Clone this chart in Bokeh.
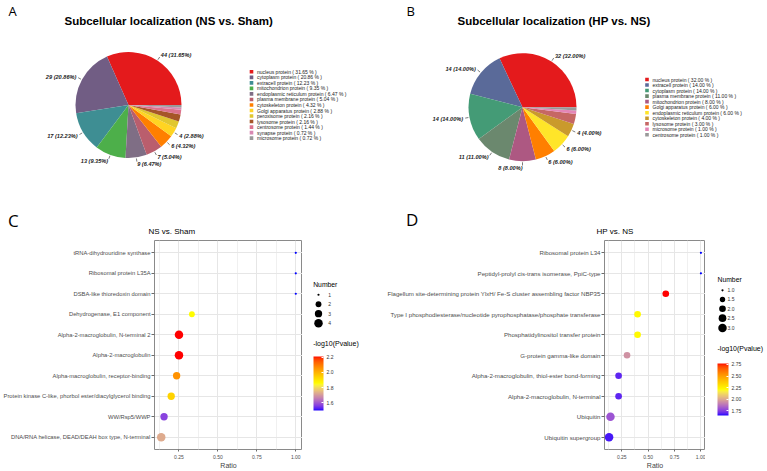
import numpy as np
from bokeh.plotting import figure
from bokeh.layouts import row, column
from bokeh.models import (Range1d, FactorRange, FixedTicker, PrintfTickFormatter,
                          LinearColorMapper, ColorBar, ColumnDataSource)
from bokeh.core.properties import value
from bokeh.embed import file_html
from bokeh.resources import INLINE

# ---------------- data ----------------
# A: subcellular localization, NS vs. Sham
loc_a_names = ["nucleus protein", "cytoplasm protein", "extracell protein", "mitochondrion protein",
               "endoplasmic reticulum protein", "plasma membrane protein", "cytoskeleton protein",
               "Golgi apparatus protein", "peroxisome protein", "lysosome protein",
               "centrosome protein", "synapse protein", "microsome protein"]
loc_a_counts = [44, 29, 17, 13, 9, 7, 6, 4, 3, 3, 2, 1, 1]

# B: subcellular localization, HP vs. NS
loc_b_names = ["nucleus protein", "extracell protein", "cytoplasm protein", "plasma membrane protein",
               "mitochondrion protein", "Golgi apparatus protein", "endoplasmic reticulum protein",
               "cytoskeleton protein", "lysosome protein", "microsome protein", "centrosome protein"]
loc_b_counts = [32, 14, 14, 11, 8, 6, 6, 4, 3, 1, 1]

# C: domain enrichment, NS vs. Sham (listed top to bottom)
dom_c_terms = ["tRNA-dihydrouridine synthase", "Ribosomal protein L35A", "DSBA-like thioredoxin domain",
               "Dehydrogenase, E1 component", "Alpha-2-macroglobulin, N-terminal 2", "Alpha-2-macroglobulin",
               "Alpha-macroglobulin, receptor-binding",
               "Protein kinase C-like, phorbol ester/diacylglycerol binding", "WW/Rsp5/WWP",
               "DNA/RNA helicase, DEAD/DEAH box type, N-terminal"]
dom_c_ratio = [1.0, 1.0, 1.0, 0.333, 0.25, 0.25, 0.235, 0.2, 0.154, 0.136]
dom_c_number = [1, 1, 1, 2, 4, 4, 3, 3, 3, 4]
dom_c_logp = [1.50, 1.50, 1.50, 1.86, 2.21, 2.21, 2.06, 1.94, 1.57, 1.73]
size_c_breaks = [1, 2, 3, 4]
color_c_breaks = [1.6, 1.8, 2.0, 2.2]

# D: domain enrichment, HP vs. NS (listed top to bottom)
dom_d_terms = ["Ribosomal protein L34", "Peptidyl-prolyl cis-trans isomerase, PpiC-type",
               "Flagellum site-determining protein YlxH/ Fe-S cluster assembling factor NBP35",
               "Type I phosphodiesterase/nucleotide pyrophosphatase/phosphate transferase",
               "Phosphatidylinositol transfer protein", "G-protein gamma-like domain",
               "Alpha-2-macroglobulin, thiol-ester bond-forming", "Alpha-2-macroglobulin, N-terminal",
               "Ubiquitin", "Ubiquitin supergroup"]
dom_d_ratio = [1.0, 1.0, 0.667, 0.4, 0.4, 0.3, 0.22, 0.22, 0.143, 0.13]
dom_d_number = [1, 1, 2, 2, 2, 2, 2, 2, 3, 3]
dom_d_logp = [1.65, 1.65, 2.77, 2.23, 2.23, 1.95, 1.70, 1.70, 1.80, 1.68]
size_d_breaks = [1.0, 1.5, 2.0, 2.5, 3.0]
color_d_breaks = [1.75, 2.00, 2.25, 2.50, 2.75]

# ---------------- styling helpers ----------------
FONT = "Liberation Sans"
LETTER_FONT = "Open Sans"
H_TOP, H_BOT = 236, 235
MIN_LABELLED = 4  # slices with fewer proteins get no outside label

SET1 = ["#E41A1C", "#377EB8", "#4DAF4A", "#984EA3", "#FF7F00",
        "#FFFF33", "#A65628", "#F781BF", "#999999"]


def hex_rgb(h):
    return np.array([int(h[i:i + 2], 16) for i in (1, 3, 5)], dtype=float)


def set1_ramp(n):
    base = np.array([hex_rgb(c) for c in SET1])
    out = []
    for v in np.linspace(0, len(SET1) - 1, n):
        i = min(int(np.floor(v)), len(SET1) - 2)
        f = v - i
        c = base[i] * (1 - f) + base[i + 1] * f
        out.append("#%02x%02x%02x" % tuple(int(round(x)) for x in c))
    return out


_M = np.array([[0.4124, 0.3576, 0.1805], [0.2126, 0.7152, 0.0722], [0.0193, 0.1192, 0.9505]])
_WHITE = np.array([0.95047, 1.0, 1.08883])


def to_lab(h):
    rgb = hex_rgb(h) / 255.0
    c = np.where(rgb > 0.04045, ((rgb + 0.055) / 1.055) ** 2.4, rgb / 12.92)
    xyz = _M @ c / _WHITE
    f = np.where(xyz > 216 / 24389, np.cbrt(xyz), (24389 / 27 * xyz + 16) / 116)
    return np.array([116 * f[1] - 16, 500 * (f[0] - f[1]), 200 * (f[1] - f[2])])


def from_lab(lab):
    L, a, b = lab
    fy = (L + 16) / 116
    f = np.array([fy + a / 500, fy, fy - b / 200])
    xyz = np.where(f ** 3 > 216 / 24389, f ** 3, (116 * f - 16) / (24389 / 27)) * _WHITE
    c = np.clip(np.linalg.inv(_M) @ xyz, 0, 1)
    rgb = np.where(c > 0.0031308, 1.055 * c ** (1 / 2.4) - 0.055, 12.92 * c)
    return "#%02x%02x%02x" % tuple(int(round(v * 255)) for v in np.clip(rgb, 0, 1))


def lab_gradient(stops, n=256):
    labs = [to_lab(s) for s in stops]
    pos = np.linspace(0, 1, len(stops))
    out = []
    for t in np.linspace(0, 1, n):
        k = min(np.searchsorted(pos, t, side="right") - 1, len(stops) - 2)
        f = (t - pos[k]) / (pos[k + 1] - pos[k])
        out.append(from_lab(labs[k] * (1 - f) + labs[k + 1] * f))
    return out


PVAL_PALETTE = lab_gradient(["#0000FF", "#FFFF00", "#FF0000"])


def blank(w, h, xr, yr):
    p = figure(width=w, height=h, x_range=Range1d(*xr), y_range=Range1d(*yr),
               x_axis_type=None, y_axis_type=None, output_backend="svg",
               toolbar_location=None, min_border=0)
    p.outline_line_color = None
    p.background_fill_color = "white"
    return p


def txt(p, x, y, s, size, align="left", style="normal", color="#000000", font=FONT):
    p.text(x=[x], y=[y], text=[s], text_font=value(font), text_font_size=size,
           text_font_style=style, text_align=align, text_baseline="middle", text_color=color)


# ---------------- pie panels ----------------
def pie_panel(p, names, counts, cx, cy_px, r, leg_x, leg_y0, leg_dy):
    counts = np.asarray(counts, dtype=float)
    frac = counts / counts.sum()
    pct = frac * 100
    end = 2 * np.pi * np.cumsum(frac)
    start = end - 2 * np.pi * frac
    cy = H_TOP - cy_px
    colors = set1_ramp(len(counts))
    p.wedge(x=cx, y=cy, radius=r, start_angle=start, end_angle=end,
            direction="anticlock", fill_color=colors, line_color=None)

    mid = (start + end) / 2
    show = counts >= MIN_LABELLED
    cs, sn = np.cos(mid[show]), np.sin(mid[show])
    p.segment(x0=cx + 1.02 * r * cs, y0=cy + 1.02 * r * sn,
              x1=cx + 1.08 * r * cs, y1=cy + 1.08 * r * sn,
              line_color="#444444", line_width=0.7)
    labels = np.array(["%d (%.2f%%)" % (c, q) for c, q in zip(counts[show], pct[show])])
    lx, ly = cx + 1.12 * r * cs, cy + 1.12 * r * sn
    for side, m in (("left", cs > 0), ("right", cs <= 0)):
        p.text(x=lx[m], y=ly[m], text=labels[m], text_font=value(FONT), text_font_size="5.6px",
               text_font_style="bold italic", text_align=side, text_baseline="middle",
               text_color="#222222")

    ys = H_TOP - (leg_y0 + leg_dy * np.arange(len(counts)))
    p.scatter(x=leg_x, y=ys, marker="square", size=3.6, fill_color=colors, line_color=None)
    leg_text = ["%s ( %.2f %% )" % (n, q) for n, q in zip(names, pct)]
    p.text(x=leg_x + 5.5, y=ys, text=leg_text, text_font=value(FONT), text_font_size="5px",
           text_align="left", text_baseline="middle", text_color="#222222")


pA = blank(384, H_TOP, (0, 384), (0, H_TOP))
pie_panel(pA, loc_a_names, loc_a_counts, 128, 104.5, 53, 251, 71.3, 5.53)
txt(pA, 64, H_TOP - 20, "Subcellular localization (NS vs. Sham)", "11.5px", style="bold")
txt(pA, 8, H_TOP - 10.3, "A", "13px", font=LETTER_FONT)
txt(pA, 7.5, H_TOP - 220, "C", "17px", font=LETTER_FONT)
txt(pA, 148, H_TOP - 231, "NS vs. Sham", "8px")

pB = blank(383, H_TOP, (384, 767), (0, H_TOP))
pie_panel(pB, loc_b_names, loc_b_counts, 522, 106.7, 54, 646.5, 79, 5.53)
txt(pB, 457, H_TOP - 20, "Subcellular localization (HP vs. NS)", "11.5px", style="bold")
txt(pB, 406, H_TOP - 10.3, "B", "13px", font=LETTER_FONT)
txt(pB, 405.5, H_TOP - 219, "D", "17px", font=LETTER_FONT)
txt(pB, 596, H_TOP - 231, "HP vs. NS", "8px")


# ---------------- bubble panels ----------------
def diam(n, nmin, nmax):
    return 2.2 + np.sqrt((np.asarray(n, dtype=float) - nmin) / (nmax - nmin)) * (8.5 - 2.2)


def bubble_panel(terms, ratio, number, logp, width, left, mapper, label_size):
    lo, hi = min(ratio), max(ratio)
    pad = 0.05 * (hi - lo)
    p = figure(width=width, height=H_BOT, x_range=Range1d(lo - pad, hi + pad),
               y_range=FactorRange(factors=terms[::-1], range_padding=0.1,
                                   range_padding_units="absolute"),
               output_backend="svg", toolbar_location=None,
               min_border_left=left, min_border_right=0, min_border_top=4, min_border_bottom=18)
    src = ColumnDataSource(dict(term=terms, ratio=ratio, logp=logp,
                                d=diam(number, min(number), max(number))))
    p.scatter(x="ratio", y="term", size="d", source=src, line_color=None,
              fill_color={"field": "logp", "transform": mapper})
    p.outline_line_color = "#8a8a8a"
    p.outline_line_width = 1
    p.xaxis.ticker = FixedTicker(ticks=[0.25, 0.5, 0.75, 1.0],
                                 minor_ticks=[0.125, 0.375, 0.625, 0.875])
    p.xaxis.formatter = PrintfTickFormatter(format="%.2f")
    p.xaxis.axis_label = "Ratio"
    p.xaxis.axis_label_text_font = FONT
    p.xaxis.axis_label_text_font_size = "7px"
    p.xaxis.axis_label_text_font_style = "normal"
    p.xaxis.axis_label_standoff = 0
    for ax in (p.xaxis, p.yaxis):
        ax.axis_line_color = None
        ax.major_tick_line_color = "#444444"
        ax.major_tick_line_width = 0.8
        ax.major_tick_in = 0
        ax.minor_tick_line_color = None
        ax.major_label_text_font = FONT
        ax.major_label_text_color = "#4d4d4d"
        ax.major_label_standoff = 1
    p.xaxis.major_tick_out = 2
    p.yaxis.major_tick_out = 3
    p.xaxis.major_label_text_font_size = "5px"
    p.yaxis.major_label_text_font_size = label_size
    p.xgrid.grid_line_color = "#e6e6e6"
    p.xgrid.minor_grid_line_color = "#f0f0f0"
    p.ygrid.grid_line_color = "#e6e6e6"
    return p


def legend_panel(x0, width, number, breaks, blabels, mapper, ticks, fmt,
                 title_x, num_y, dot_x, lab_x, rows_y, cb_title_y, cb_loc, cb_w, cb_h):
    p = blank(width, H_BOT, (x0, x0 + width), (471, 471 - H_BOT))
    txt(p, title_x, num_y, "Number", "6.8px")
    p.scatter(x=dot_x, y=rows_y, size=diam(breaks, min(number), max(number)),
              fill_color="black", line_color=None)
    p.text(x=lab_x, y=rows_y, text=blabels, text_font=value(FONT), text_font_size="5px",
           text_align="left", text_baseline="middle", text_color="#333333")
    txt(p, title_x, cb_title_y, "-log10(Pvalue)", "7px")
    cb = ColorBar(color_mapper=mapper, location=cb_loc, orientation="vertical",
                  width=cb_w, height=cb_h, padding=0, margin=0,
                  ticker=FixedTicker(ticks=ticks), formatter=PrintfTickFormatter(format=fmt),
                  major_label_text_font_size="5px", major_label_text_font=FONT,
                  major_label_text_color="#333333", label_standoff=3,
                  major_tick_line_color="white", major_tick_in=2, major_tick_out=0,
                  bar_line_color=None, background_fill_color=None, border_line_color=None)
    p.add_layout(cb)
    return p


map_c = LinearColorMapper(palette=PVAL_PALETTE, low=min(dom_c_logp), high=max(dom_c_logp))
map_d = LinearColorMapper(palette=PVAL_PALETTE, low=min(dom_d_logp), high=max(dom_d_logp))

pC = bubble_panel(dom_c_terms, dom_c_ratio, dom_c_number, dom_c_logp, 302, 147, map_c, "5.8px")
lC = legend_panel(302, 82, dom_c_number, size_c_breaks, [str(b) for b in size_c_breaks], map_c,
                  color_c_breaks, "%.1f", 312.7, 285, 318, 327.7, [297, 307.7, 318.3, 329],
                  351.7, (11, 39), 10, 54)

pD = bubble_panel(dom_d_terms, dom_d_ratio, dom_d_number, dom_d_logp, 321, 212, map_d, "6.1px")
lD = legend_panel(705, 62, dom_d_number, size_d_breaks, ["%.1f" % b for b in size_d_breaks], map_d,
                  color_d_breaks, "%.2f", 717, 279.7, 722, 727, [292, 302.3, 312.7, 323.3, 334.3],
                  357.3, (12, 34), 11, 52)

layout = column(row(pA, pB, spacing=0), row(pC, lC, pD, lD, spacing=0), spacing=0)

with open("out.html", "w") as fh:
    fh.write(file_html(layout, INLINE))
